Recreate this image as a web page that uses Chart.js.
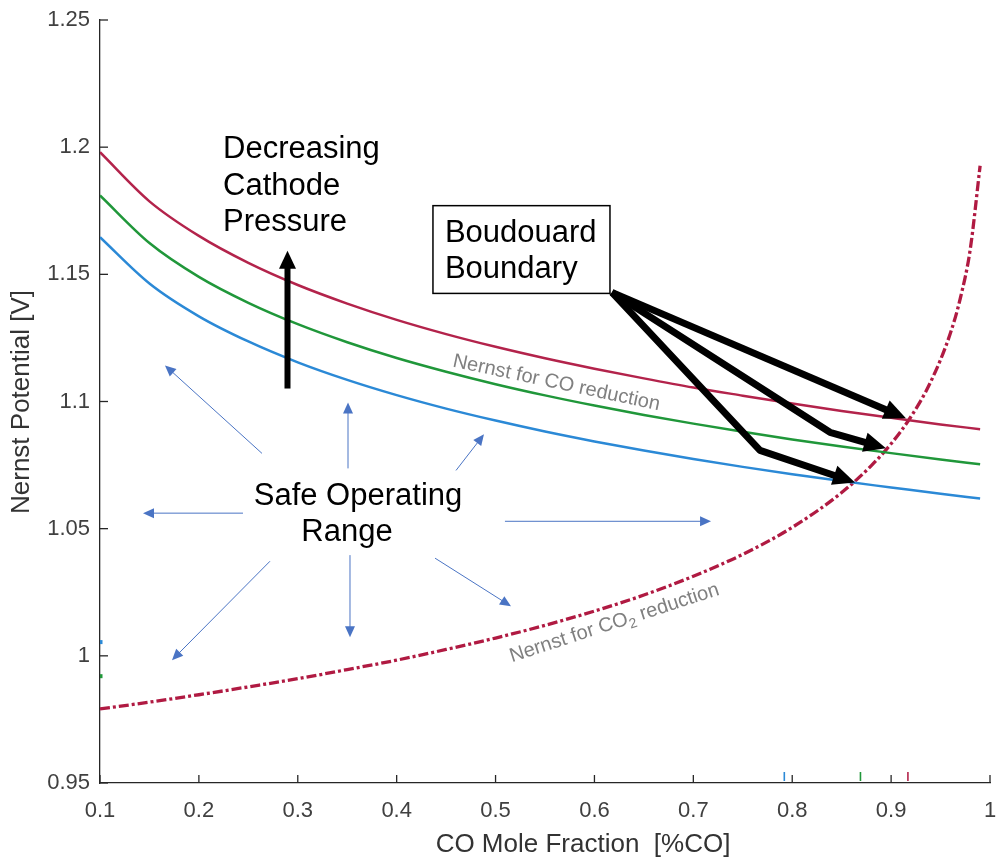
<!DOCTYPE html>
<html>
<head>
<meta charset="utf-8">
<script src="https://cdn.jsdelivr.net/npm/chart.js@4.4.1/dist/chart.umd.min.js"></script>
<style>
  html, body { margin: 0; padding: 0; background: #ffffff; }
  #wrap { width: 997px; height: 861px; }
</style>
</head>
<body>
<div id="wrap"><canvas id="nernst" width="997" height="861"></canvas></div>
<script>
// CO mole fraction at which the CO reduction curves were sampled
const moleFraction = [0.1, 0.15, 0.2, 0.25, 0.3, 0.35, 0.4, 0.45, 0.5, 0.55, 0.6,
  0.65, 0.7, 0.75, 0.8, 0.85, 0.9, 0.95, 0.99];

// Nernst potential for CO reduction [V], one curve per cathode pressure
const coLowPressure = [1.1980, 1.1787, 1.1651, 1.1545, 1.1458, 1.1385, 1.1321, 1.1265,
  1.1215, 1.1170, 1.1129, 1.1091, 1.1055, 1.1023, 1.0992, 1.0963, 1.0936, 1.0910, 1.0891];
const coMidPressure = [1.1810, 1.1623, 1.1490, 1.1388, 1.1304, 1.1233, 1.1171, 1.1117,
  1.1068, 1.1024, 1.0984, 1.0947, 1.0913, 1.0881, 1.0851, 1.0823, 1.0797, 1.0772, 1.0753];
const coHighPressure = [1.1646, 1.1464, 1.1335, 1.1236, 1.1154, 1.1085, 1.1025, 1.0972,
  1.0925, 1.0882, 1.0843, 1.0807, 1.0774, 1.0743, 1.0714, 1.0687, 1.0662, 1.0637, 1.0619];

// Nernst potential for CO2 reduction [V]
const co2Fraction = [0.1, 0.15, 0.2, 0.25, 0.3, 0.35, 0.4, 0.45, 0.5, 0.55, 0.6, 0.65,
  0.7, 0.75, 0.8, 0.85, 0.88, 0.9, 0.92, 0.94, 0.96, 0.97, 0.98, 0.99];
const co2Potential = [0.9791, 0.9818, 0.9847, 0.9878, 0.9910, 0.9946, 0.9983, 1.0025,
  1.0070, 1.0120, 1.0176, 1.0239, 1.0313, 1.0399, 1.0505, 1.0642, 1.0748, 1.0834,
  1.0940, 1.1077, 1.1269, 1.1406, 1.1598, 1.1927];

// short coloured marks on the axes
const axisMarkX = [0.792, 0.869, 0.917];
const edgeMarkY = [1.0054, 0.992];

const RED = '#b3234b';
const GREEN = '#20973a';
const BLUE = '#2b89d6';
const CO2_RED = '#b01a42';
const ARROW_BLUE = '#4a74c4';
const FONT = '"Liberation Sans", Arial, Helvetica, sans-serif';

const toPoints = (xs, ys) => xs.map((x, i) => ({ x: x, y: ys[i] }));
const fmt = v => String(Number(v.toFixed(2)));

function curve(label, xs, ys, color, width, dash) {
  return {
    label: label,
    data: toPoints(xs, ys),
    borderColor: color,
    borderWidth: width,
    borderDash: dash || [],
    pointRadius: 0,
    fill: false,
    cubicInterpolationMode: 'monotone',
  };
}

function arrowHead(ctx, fx, fy, tx, ty, len, half) {
  const a = Math.atan2(ty - fy, tx - fx);
  ctx.beginPath();
  ctx.moveTo(tx, ty);
  ctx.lineTo(tx - len * Math.cos(a) + half * Math.sin(a), ty - len * Math.sin(a) - half * Math.cos(a));
  ctx.lineTo(tx - len * Math.cos(a) - half * Math.sin(a), ty - len * Math.sin(a) + half * Math.cos(a));
  ctx.closePath();
  ctx.fill();
}

// pts are pixel points; the last one is the tip
function arrow(ctx, pts, width, len, half, color) {
  const n = pts.length;
  const [fx, fy] = pts[n - 2];
  const [tx, ty] = pts[n - 1];
  const a = Math.atan2(ty - fy, tx - fx);
  ctx.save();
  ctx.strokeStyle = color;
  ctx.fillStyle = color;
  ctx.lineWidth = width;
  ctx.lineJoin = 'round';
  ctx.beginPath();
  ctx.moveTo(pts[0][0], pts[0][1]);
  for (let i = 1; i < n - 1; i++) ctx.lineTo(pts[i][0], pts[i][1]);
  ctx.lineTo(tx - len * 0.7 * Math.cos(a), ty - len * 0.7 * Math.sin(a));
  ctx.stroke();
  arrowHead(ctx, fx, fy, tx, ty, len, half);
  ctx.restore();
}

const annotations = {
  id: 'annotations',
  afterDraw(chart) {
    const ctx = chart.ctx;
    const xs = chart.scales.x, ys = chart.scales.y;
    const P = (x, y) => [xs.getPixelForValue(x), ys.getPixelForValue(y)];
    const area = chart.chartArea;

    // inward tick marks
    ctx.save();
    ctx.strokeStyle = '#262626';
    ctx.lineWidth = 1.3;
    xs.ticks.forEach(t => {
      const px = xs.getPixelForValue(t.value);
      ctx.beginPath(); ctx.moveTo(px, area.bottom); ctx.lineTo(px, area.bottom - 8); ctx.stroke();
    });
    ys.ticks.forEach(t => {
      const py = ys.getPixelForValue(t.value);
      ctx.beginPath(); ctx.moveTo(area.left, py); ctx.lineTo(area.left + 8, py); ctx.stroke();
    });
    [BLUE, GREEN, RED].forEach((c, i) => {
      const px = xs.getPixelForValue(axisMarkX[i]);
      ctx.strokeStyle = c;
      ctx.lineWidth = 1.6;
      ctx.beginPath(); ctx.moveTo(px, area.bottom - 2); ctx.lineTo(px, area.bottom - 11); ctx.stroke();
    });
    [BLUE, GREEN].forEach((c, i) => {
      const py = ys.getPixelForValue(edgeMarkY[i]);
      ctx.fillStyle = c;
      ctx.fillRect(area.left, py - 2, 2.5, 4);
    });
    ctx.restore();

    // axis titles
    ctx.save();
    ctx.fillStyle = '#333333';
    ctx.font = '26px ' + FONT;
    ctx.textAlign = 'center';
    ctx.textBaseline = 'middle';
    ctx.fillText('CO Mole Fraction  [%CO]', 583, 845);
    ctx.translate(22, 402);
    ctx.rotate(-Math.PI / 2);
    ctx.fillText('Nernst Potential [V]', 0, 0);
    ctx.restore();

    // black labels
    ctx.save();
    ctx.fillStyle = '#000000';
    ctx.font = '31px ' + FONT;
    ctx.textBaseline = 'alphabetic';
    ctx.textAlign = 'left';
    let p = P(0.2244, 1.1959); ctx.fillText('Decreasing', p[0], p[1]);
    p = P(0.2244, 1.1810); ctx.fillText('Cathode', p[0], p[1]);
    p = P(0.2244, 1.1672); ctx.fillText('Pressure', p[0], p[1]);
    p = P(0.4488, 1.1629); ctx.fillText('Boudouard', p[0], p[1]);
    p = P(0.4488, 1.1487); ctx.fillText('Boundary', p[0], p[1]);
    ctx.textAlign = 'center';
    p = P(0.3609, 1.0592); ctx.fillText('Safe Operating', p[0], p[1]);
    p = P(0.3498, 1.0450); ctx.fillText('Range', p[0], p[1]);

    // Boudouard box
    const b1 = P(0.4367, 1.1770), b2 = P(0.6157, 1.1425);
    ctx.strokeStyle = '#000000';
    ctx.lineWidth = 1.5;
    ctx.strokeRect(b1[0], b1[1], b2[0] - b1[0], b2[1] - b1[1]);
    ctx.restore();

    // pressure arrow
    arrow(ctx, [P(0.2896, 1.1051), P(0.2896, 1.1593)], 6, 18, 8.5, '#000000');

    // arrows to the Boudouard intersections
    const start = P(0.6177, 1.1429);
    arrow(ctx, [start, P(0.915, 1.0934)], 7, 22, 10, '#000000');
    arrow(ctx, [start, P(0.8382, 1.0879), P(0.8948, 1.0816)], 7, 22, 10, '#000000');
    arrow(ctx, [start, P(0.7674, 1.0808), P(0.8635, 1.0682)], 7, 22, 10, '#000000');

    // safe operating range arrows
    const spokes = [
      [0.2638, 1.0796, 0.1657, 1.1142],
      [0.3508, 1.0737, 0.3508, 1.0996],
      [0.4600, 1.0729, 0.4883, 1.0871],
      [0.2446, 1.0561, 0.1435, 1.0561],
      [0.5095, 1.0529, 0.7179, 1.0529],
      [0.4388, 1.0384, 0.5156, 1.0195],
      [0.3528, 1.0396, 0.3528, 1.0073],
      [0.2719, 1.0372, 0.1728, 0.9983],
    ];
    spokes.forEach(s => arrow(ctx, [P(s[0], s[1]), P(s[2], s[3])], 1, 11, 5, ARROW_BLUE));

    // curve labels
    ctx.save();
    ctx.fillStyle = '#808080';
    ctx.font = '20px ' + FONT;
    ctx.textBaseline = 'alphabetic';
    p = P(0.4559, 1.1138);
    ctx.translate(p[0], p[1]);
    ctx.rotate(12 * Math.PI / 180);
    ctx.fillText('Nernst for CO reduction', 0, 0);
    ctx.restore();

    ctx.save();
    ctx.fillStyle = '#808080';
    ctx.font = '20px ' + FONT;
    ctx.textBaseline = 'alphabetic';
    p = P(0.5166, 0.9975);
    ctx.translate(p[0], p[1]);
    ctx.rotate(-18 * Math.PI / 180);
    let w = 0;
    ctx.fillText('Nernst for CO', 0, 0);
    w += ctx.measureText('Nernst for CO').width;
    ctx.font = '14px ' + FONT;
    ctx.fillText('2', w, 5);
    w += ctx.measureText('2').width;
    ctx.font = '20px ' + FONT;
    ctx.fillText(' reduction', w, 0);
    ctx.restore();
  }
};

new Chart(document.getElementById('nernst'), {
  type: 'line',
  data: {
    datasets: [
      curve('CO reduction, low pressure', moleFraction, coLowPressure, RED, 2.5),
      curve('CO reduction, mid pressure', moleFraction, coMidPressure, GREEN, 2.5),
      curve('CO reduction, high pressure', moleFraction, coHighPressure, BLUE, 2.5),
      curve('CO2 reduction', co2Fraction, co2Potential, CO2_RED, 3.3, [10, 3, 3, 3]),
    ],
  },
  options: {
    responsive: false,
    animation: false,
    layout: { padding: { top: 20, right: 7, left: 0, bottom: 0 } },
    plugins: {
      legend: { display: false },
      tooltip: { enabled: false },
    },
    scales: {
      x: {
        type: 'linear',
        min: 0.1,
        max: 1,
        afterFit: s => { s.height = 78; s.paddingLeft = 0; s.paddingRight = 0; },
        grid: { display: false, drawTicks: false },
        border: { display: true, color: '#262626', width: 1.3 },
        ticks: {
          stepSize: 0.1,
          padding: 15,
          maxRotation: 0,
          autoSkip: false,
          color: '#404040',
          font: { family: FONT, size: 22 },
          callback: v => fmt(v),
        },
      },
      y: {
        type: 'linear',
        min: 0.95,
        max: 1.25,
        afterFit: s => { s.width = 100; s.paddingTop = 0; s.paddingBottom = 0; },
        grid: { display: false, drawTicks: false },
        border: { display: true, color: '#262626', width: 1.3 },
        ticks: {
          stepSize: 0.05,
          padding: 10,
          color: '#404040',
          font: { family: FONT, size: 22 },
          callback: v => fmt(v),
        },
      },
    },
  },
  plugins: [annotations],
});
</script>
</body>
</html>
